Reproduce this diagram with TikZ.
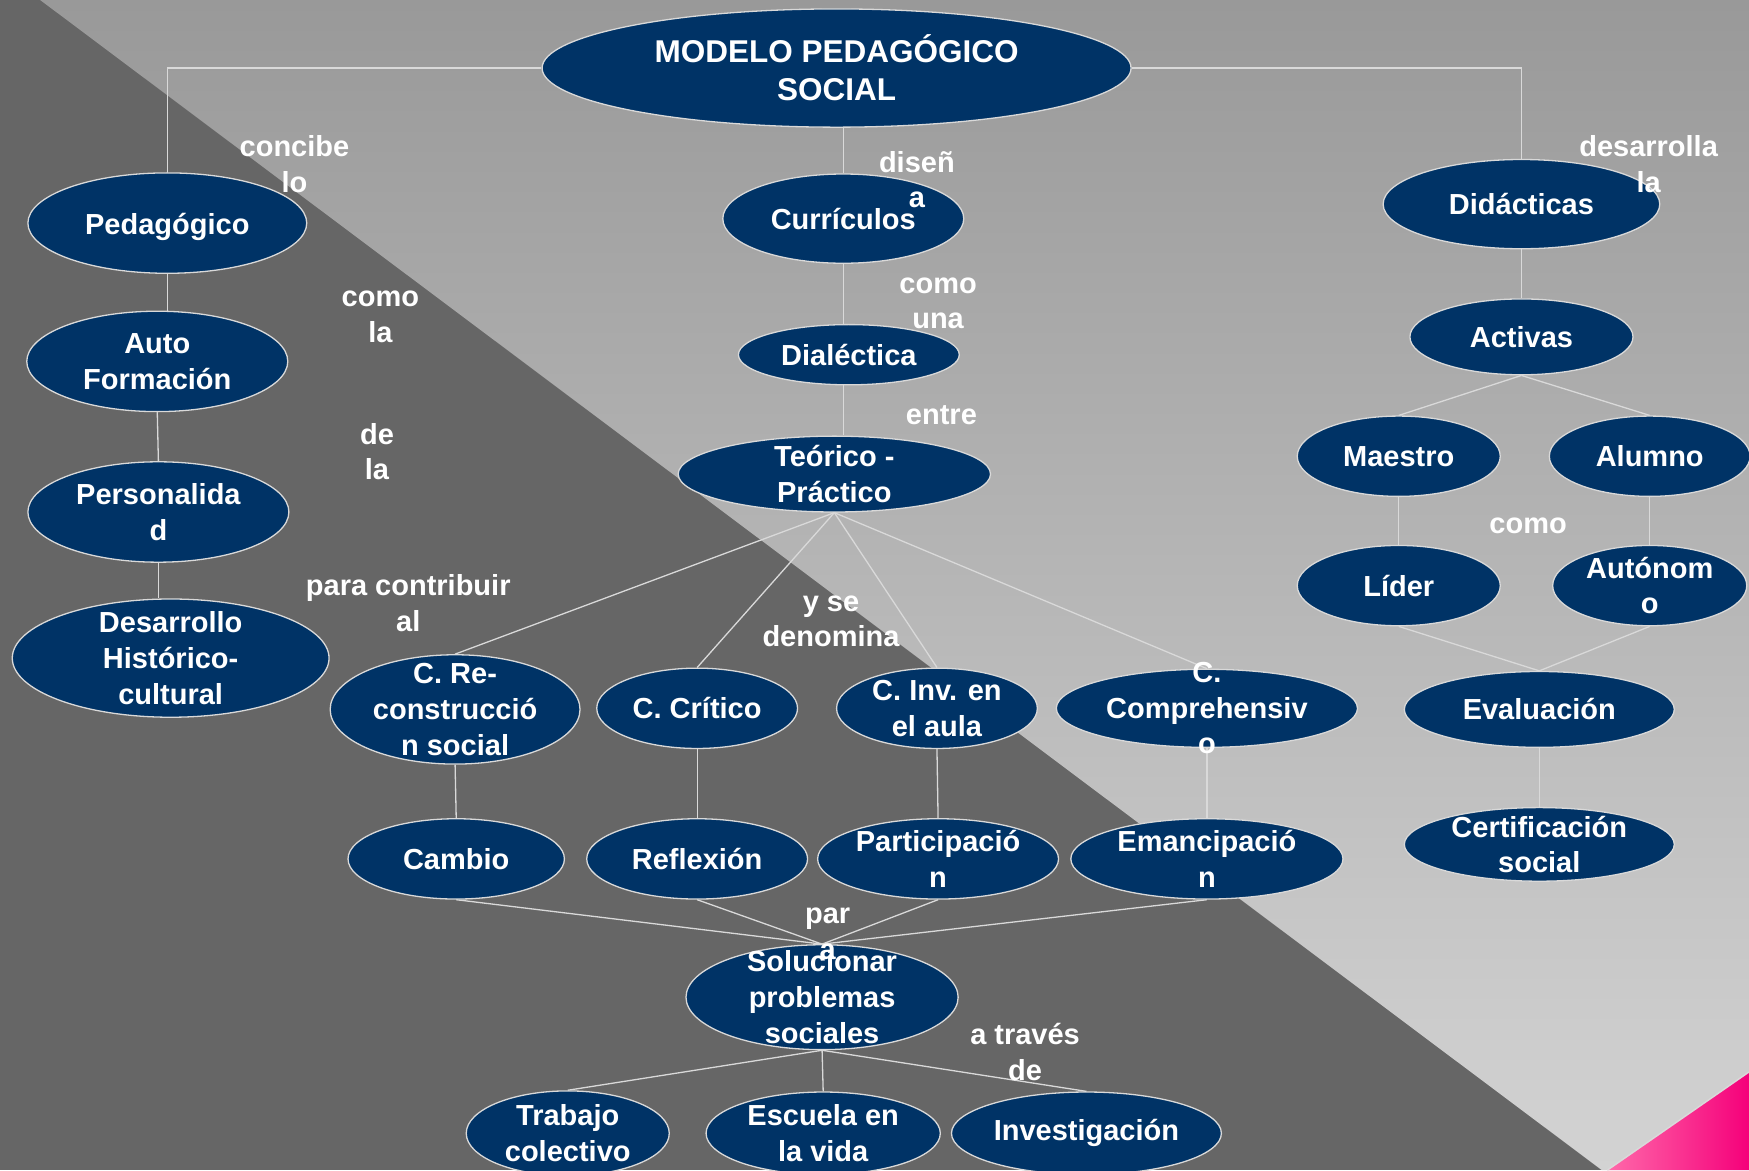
\documentclass[tikz,border=0pt]{standalone}
\usepackage{fontspec}
\setmainfont{Liberation Sans}
\usetikzlibrary{shapes.geometric}
\definecolor{navy}{HTML}{003366}
\definecolor{bord}{HTML}{D9D9D9}
\definecolor{edgec}{HTML}{D9D9D9}
\definecolor{darkbg}{HTML}{666666}
\definecolor{lighttop}{HTML}{999999}
\definecolor{lightbot}{HTML}{D3D3D3}
\definecolor{pinkL}{RGB}{255,105,170}
\definecolor{pinkM}{RGB}{250,25,130}
\definecolor{pinkR}{RGB}{245,0,122}
\pgfdeclarelayer{bg}
\pgfdeclarelayer{edges}
\pgfsetlayers{bg,edges,main}
\tikzset{
  ell/.style 2 args={ellipse, inner sep=0pt, minimum width=#1*2.2308pt,
    minimum height=#2*2.2308pt, fill=navy, draw=bord, line width=1.3pt},
  txt/.style={text=white, font=\bfseries\fontsize{29}{35.7}\selectfont,
    align=center, inner sep=0pt},
  lbl/.style={txt},
  conn/.style={draw=edgec, line width=1.3pt},
}
\newcommand\enode[6]{%
  \node[ell={#4}{#5}] (#1) at (#2,#3) {};
  \node[txt] (#1-t) at (#1.center) {#6};}
\begin{document}
\begin{tikzpicture}[x=1.1154pt,y=-1.1154pt]
\useasboundingbox (0,0) rectangle (1568,1049);
\begin{pgfonlayer}{bg}
  \fill[darkbg] (0,0) rectangle (1568,1049);
  \shade[top color=lighttop, bottom color=lightbot]
    (36,0) -- (1568,0) -- (1568,1049) -- (1436,1049) -- cycle;
  \shade[left color=pinkL, middle color=pinkM, right color=pinkR]
    (1441,1049) -- (1568,961) -- (1568,1049) -- cycle;
  \draw[draw=bord, line width=1.5pt] (1441,1049) -- (1568,961);
\end{pgfonlayer}

% title
\node[ell={264}{53}] (mod) at (750,61) {};
\node[txt, font=\bfseries\fontsize{31.5}{38}\selectfont] (mod-t) at (mod.center)
  {MODELO PEDAGÓGICO\\SOCIAL};

% left column
\node[ell={125}{45}] (ped) at (150,200) {};
\node[txt] (ped-t) at ([yshift=-3.5pt]ped.center) {Pedagógico};
\enode{auto}{141}{324}{117}{45}{Auto\\Formación}
\enode{per}{142}{459}{117}{45}{Personalida\\d}
\enode{des}{153}{590}{142}{53}{Desarrollo\\Histórico-\\cultural}

% middle column
\enode{cur}{756}{196}{108}{40}{Currículos}
\enode{dia}{761}{318}{99}{27}{Dialéctica}
\enode{teo}{748}{425}{140}{34}{Teórico -\\Práctico}
\enode{cre}{408}{636}{112}{49}{C. Re-\\construcció\\n social}
\enode{cri}{625}{635}{90}{36}{C. Crítico}
\enode{inv}{840}{635}{90}{36}{C. Inv. en\\el aula}
\enode{com}{1082}{635}{135}{35}{C.\\Comprehensiv\\o}
\enode{cam}{409}{770}{97}{36}{Cambio}
\enode{ref}{625}{770}{99}{36}{Reflexión}
\enode{par}{841}{770}{108}{36}{Participació\\n}
\enode{ema}{1082}{770}{122}{36}{Emancipació\\n}
\enode{sol}{737}{894}{122}{47}{Solucionar\\problemas\\sociales}
\enode{tra}{509}{1016}{91}{38}{Trabajo\\colectivo}
\enode{esc}{738}{1016}{105}{37}{Escuela en\\la vida}
\enode{ivs}{974}{1016}{121}{37}{Investigación}

% right column
\enode{did}{1364}{183}{124}{40}{Didácticas}
\enode{act}{1364}{302}{100}{34}{Activas}
\enode{mae}{1254}{409}{91}{36}{Maestro}
\enode{alu}{1479}{409}{90}{36}{Alumno}
\enode{lid}{1254}{525}{91}{36}{Líder}
\enode{aut}{1479}{525}{87}{36}{Autónom\\o}
\enode{eva}{1380}{636}{121}{34}{Evaluación}
\enode{cer}{1380}{757}{121}{33}{Certificación\\social}

% connectors
\begin{pgfonlayer}{edges}
  \draw[conn] (mod.west) -| (ped.north);
  \draw[conn] (mod.east) -| (did.north);
  \draw[conn] (mod.south -| cur.north) -- (cur.north);
  \draw[conn] (cur.south) -- (cur.south |- dia.north);
  \draw[conn] (dia.south -| cur.south) -- (teo.north -| cur.south);
  \draw[conn] (ped.south) -- (ped.south |- auto.north);
  \draw[conn] (auto.south) -- (per.north);
  \draw[conn] (per.south) -- (per.south |- des.north);
  \draw[conn] (did.south) -- (act.north);
  \draw[conn] (act.south) -- (mae.north);
  \draw[conn] (act.south) -- (alu.north);
  \draw[conn] (mae.south) -- (lid.north);
  \draw[conn] (alu.south) -- (aut.north);
  \draw[conn] (lid.south) -- (eva.north);
  \draw[conn] (aut.south) -- (eva.north);
  \draw[conn] (eva.south) -- (cer.north);
  \draw[conn] (teo.south) -- (cre.north);
  \draw[conn] (teo.south) -- (cri.north);
  \draw[conn] (teo.south) -- (inv.north);
  \draw[conn] (teo.south) -- (com.north);
  \draw[conn] (cre.south) -- (cam.north);
  \draw[conn] (cri.south) -- (ref.north);
  \draw[conn] (inv.south) -- (par.north);
  \draw[conn] (com.south) -- (ema.north);
  \draw[conn] (cam.south) -- (sol.north);
  \draw[conn] (ref.south) -- (sol.north);
  \draw[conn] (par.south) -- (sol.north);
  \draw[conn] (ema.south) -- (sol.north);
  \draw[conn] (sol.south) -- (tra.north);
  \draw[conn] (sol.south) -- (esc.north);
  \draw[conn] (sol.south) -- (ivs.north);
\end{pgfonlayer}

% connector labels
\node[lbl] (l1) at (264,147) {concibe\\lo};
\node[lbl] (l2) at (822,161) {diseñ\\a};
\node[lbl] (l3) at (1478,147) {desarrolla\\la};
\node[lbl] (l4) at (341,284) {como\\la};
\node[lbl] (l5) at (841,272) {como\\una};
\node[lbl] (l6) at (338,405) {de\\la};
\node[lbl] (l7) at (844,372) {entre};
\node[lbl] (l8) at (366,541) {para contribuir\\al};
\node[lbl] (l9) at (745,557) {y se\\denomina};
\node[lbl] (l10) at (1370,471) {como};
\node[lbl] (l11) at (742,837) {par\\a};
\node[lbl] (l12) at (919,943) {a través\\de};
\end{tikzpicture}
\end{document}
